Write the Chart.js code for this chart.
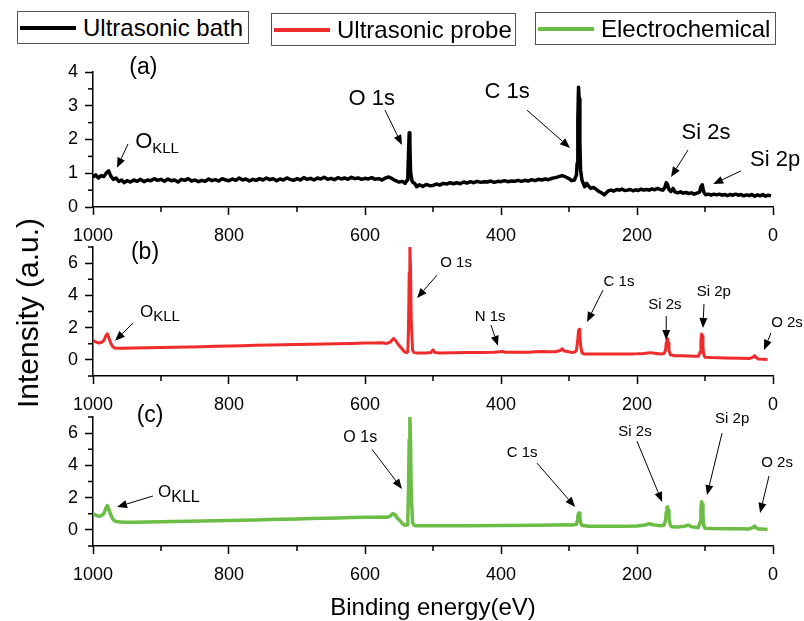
<!DOCTYPE html>
<html>
<head>
<meta charset="utf-8">
<script src="https://cdn.jsdelivr.net/npm/chart.js@4.4.1/dist/chart.umd.min.js"></script>
<style>
  html,body{margin:0;padding:0;background:#fff;}
  #wrap{position:relative;width:804px;height:621px;background:#fff;overflow:hidden;font-family:"Liberation Sans",Arial,sans-serif;color:#000;}
  canvas{position:absolute;left:0;top:0;}
  .lg{position:absolute;height:33px;border:1px solid #555;box-sizing:border-box;display:flex;align-items:center;background:#fff;}
  .lg .ln{display:inline-block;width:56px;height:4px;margin-left:2px;margin-right:7px;}
  .lg .tx{font-size:24px;line-height:33px;white-space:nowrap;}
  .ttl{position:absolute;white-space:nowrap;transform:translate(-50%,-50%);}
</style>
</head>
<body>
<div id="wrap">
  <canvas id="cA" width="804" height="621"></canvas>
  <canvas id="cB" width="804" height="621"></canvas>
  <canvas id="cC" width="804" height="621"></canvas>
  <div class="lg" style="left:17px;top:11px;width:232px;"><span class="ln" style="background:#000"></span><span class="tx">Ultrasonic bath</span></div>
  <div class="lg" style="left:271px;top:13px;width:245px;"><span class="ln" style="background:#ef2b2b"></span><span class="tx">Ultrasonic probe</span></div>
  <div class="lg" style="left:535px;top:12px;width:241px;"><span class="ln" style="background:#6cbd45"></span><span class="tx">Electrochemical</span></div>
  <div class="ttl" style="left:28px;top:313px;font-size:30px;transform:translate(-50%,-50%) rotate(-90deg);">Intensity (a.u.)</div>
  <div class="ttl" style="left:433px;top:607px;font-size:24px;">Binding energy(eV)</div>
</div>
<script>
// ---------- DATA ----------
const seriesNames = ['Ultrasonic bath', 'Ultrasonic probe', 'Electrochemical'];
const xTicks = [1000, 800, 600, 400, 200, 0];
const xMinorTicks = [900, 700, 500, 300, 100];
const yTicksA = [0, 1, 2, 3, 4];
const yMinorA = [0.5, 1.5, 2.5, 3.5];
const yTicksBC = [0, 2, 4, 6];
const yMinorBC = [-1, 1, 3, 5, 7];

// (a) Ultrasonic bath
const energyA = [1000,996,992,988,984,980,977,974,970,966,962,958,954,950,945,940,935,930,925,920,915,910,905,900,895,890,885,880,875,870,865,860,855,850,845,840,835,830,825,820,815,810,805,800,795,790,785,780,775,770,765,760,755,750,745,740,735,730,725,720,715,710,705,700,695,690,685,680,675,670,665,660,655,650,645,640,635,630,625,620,615,610,605,600,595,590,585,580,575,570,565,560,555,550,545,541,538,537,536,535,534,533,531,529,527,524,520,515,510,505,500,495,490,485,480,475,470,465,460,455,450,445,440,435,430,425,420,415,410,405,400,395,390,385,380,375,370,365,360,355,350,345,340,335,330,325,320,315,310,305,300,296,292,289,288,287,286,285,284,283,281,279,277,274,271,268,264,260,256,252,248,245,242,238,234,230,226,222,218,214,210,206,202,198,194,190,186,182,178,174,170,166,162,159,157,155,153,150,147,144,140,136,132,128,124,120,116,112,108,106,104,102,99,95,91,87,83,79,75,71,67,63,59,55,51,47,43,39,35,31,27,23,19,15,11,7,3];
const intensityA = [0.88,0.95,0.86,0.93,0.9,1.02,1.07,0.92,0.82,0.86,0.76,0.8,0.72,0.78,0.74,0.8,0.76,0.82,0.75,0.8,0.78,0.84,0.79,0.82,0.76,0.83,0.78,0.8,0.74,0.82,0.79,0.84,0.77,0.8,0.75,0.79,0.76,0.83,0.78,0.81,0.77,0.84,0.8,0.78,0.83,0.79,0.86,0.8,0.83,0.77,0.82,0.79,0.84,0.8,0.86,0.81,0.84,0.78,0.83,0.8,0.86,0.82,0.79,0.84,0.8,0.87,0.82,0.85,0.8,0.86,0.83,0.88,0.82,0.85,0.81,0.87,0.83,0.86,0.82,0.88,0.84,0.86,0.82,0.85,0.83,0.87,0.82,0.84,0.8,0.86,0.89,0.84,0.78,0.74,0.76,0.7,0.8,0.95,1.6,2.2,1.9,1.05,0.78,0.72,0.7,0.6,0.66,0.61,0.67,0.63,0.64,0.68,0.65,0.7,0.68,0.72,0.69,0.72,0.69,0.74,0.71,0.75,0.72,0.76,0.73,0.75,0.74,0.77,0.73,0.76,0.75,0.78,0.75,0.77,0.76,0.79,0.76,0.79,0.77,0.81,0.78,0.82,0.8,0.83,0.81,0.85,0.87,0.9,0.93,0.89,0.84,0.78,0.8,0.95,1.3,2.6,3.55,3.2,1.9,1.1,0.8,0.7,0.6,0.7,0.62,0.55,0.58,0.52,0.46,0.42,0.36,0.42,0.48,0.5,0.47,0.52,0.5,0.53,0.49,0.5,0.52,0.48,0.51,0.49,0.53,0.5,0.52,0.5,0.54,0.51,0.55,0.52,0.5,0.58,0.72,0.66,0.52,0.46,0.55,0.44,0.42,0.45,0.41,0.43,0.4,0.42,0.38,0.41,0.44,0.6,0.66,0.45,0.36,0.38,0.35,0.38,0.36,0.38,0.35,0.37,0.34,0.37,0.35,0.38,0.35,0.37,0.33,0.36,0.34,0.37,0.32,0.36,0.33,0.37,0.32,0.35,0.33];

// (b) Ultrasonic probe
const energyB = [1000,996,992,988,984,981,979,977,974,971,968,964,955,940,920,900,880,860,840,820,800,780,760,740,720,700,680,660,640,620,600,585,575,568,563,558,555,551,546,542,539,537,536,535,534,533,532,530,528,524,520,510,503,500,497,490,470,450,430,410,402,398,394,380,360,350,340,330,320,313,310,307,300,295,291,289,287,286,285,284,283,281,278,270,250,230,210,200,190,180,172,165,160,158,157,156,155,154,153,151,145,135,125,115,110,107,106,105,104,103,102,100,90,70,50,35,29,27,25,22,15,8];
const intensityB = [1.2,1.12,1.05,1.08,1.2,1.5,1.62,1.4,1.05,0.82,0.74,0.72,0.72,0.74,0.75,0.77,0.78,0.8,0.82,0.84,0.86,0.88,0.9,0.92,0.94,0.95,0.97,0.99,1.0,1.02,1.04,1.05,1.06,1.02,1.1,1.33,1.2,0.95,0.7,0.5,0.45,0.5,2.0,5.4,6.95,5.6,2.4,0.6,0.45,0.42,0.42,0.43,0.45,0.62,0.45,0.43,0.44,0.45,0.46,0.47,0.5,0.52,0.47,0.47,0.48,0.5,0.52,0.5,0.5,0.58,0.68,0.55,0.5,0.45,0.5,0.6,1.3,1.8,1.9,1.6,0.9,0.45,0.37,0.36,0.36,0.37,0.37,0.38,0.4,0.45,0.4,0.36,0.4,0.6,1.05,1.28,1.3,1.05,0.6,0.32,0.26,0.25,0.24,0.22,0.22,0.5,1.2,1.6,1.5,0.8,0.35,0.16,0.14,0.12,0.1,0.08,0.17,0.26,0.16,0.06,0.04,0.02];

// (c) Electrochemical
const energyC = [1000,996,992,988,984,981,979,977,974,971,968,964,955,940,920,900,880,860,840,820,800,780,760,740,720,700,680,660,640,620,600,585,575,568,563,559,556,552,548,544,541,538,537,536,535,534,533,532,530,528,525,500,450,400,350,320,305,295,289,288,287,286,285,284,283,281,270,250,220,200,190,182,175,165,160,158,157,156,155,154,153,151,149,140,130,125,120,110,107,106,105,104,103,102,100,90,70,50,35,29,27,25,22,15,8];
const intensityC = [1.0,0.92,0.85,0.88,1.0,1.35,1.5,1.3,0.95,0.68,0.55,0.5,0.48,0.48,0.49,0.5,0.52,0.53,0.55,0.56,0.58,0.6,0.62,0.64,0.66,0.68,0.7,0.72,0.74,0.76,0.78,0.79,0.8,0.78,0.85,1.02,0.95,0.7,0.55,0.35,0.28,0.32,0.7,2.6,5.6,7.0,5.4,2.2,0.45,0.3,0.25,0.25,0.26,0.27,0.28,0.3,0.32,0.3,0.35,0.55,0.85,1.02,1.05,0.85,0.45,0.27,0.22,0.22,0.23,0.24,0.28,0.38,0.3,0.26,0.3,0.6,1.1,1.38,1.42,1.2,0.7,0.3,0.2,0.18,0.22,0.3,0.2,0.14,0.5,1.3,1.75,1.6,0.9,0.3,0.1,0.08,0.07,0.07,0.06,0.15,0.24,0.14,0.06,0.05,0.03];

// ---------- ANNOTATIONS (text in data units of each panel) ----------
const labelsA = [
  {t:'(a)', x:926, y:4.12, s:23},
  {t:'O 1s', x:590, y:3.2, s:22},
  {t:'C 1s', x:391, y:3.41, s:22},
  {t:'Si 2s', x:98.5, y:2.19, s:22},
  {t:'Si 2p', x:-3, y:1.39, s:22},
  {t:'O', sub:'KLL', x:938, y:1.94, s:22, ss:15, off:7}
];
const arrowsA = [[[948.5,1.87],[964.7,1.16]],[[570.6,2.87],[545.6,1.84]],[[361.8,2.87],[298.5,1.75]],[[125,1.69],[150,0.89]],[[47,1.07],[88,0.68]]];
const labelsB = [
  {t:'(b)', x:923.5, y:6.62, s:23},
  {t:'O', sub:'KLL', x:931, y:2.94, s:17, ss:15, off:4},
  {t:'O 1s', x:466, y:6.0, s:15},
  {t:'N 1s', x:416, y:2.66, s:15},
  {t:'C 1s', x:226.5, y:4.82, s:15},
  {t:'Si 2s', x:159, y:3.4, s:15},
  {t:'Si 2p', x:87, y:4.2, s:15},
  {t:'O 2s', x:-20.6, y:2.29, s:15}
];
const arrowsB = [[[941,2.29],[967.6,1.18]],[[494,5.26],[523.5,3.83]],[[414.7,2.16],[404.4,0.87]],[[250,4.33],[273.5,2.35]],[[157,2.72],[157,1.24]],[[101.5,3.46],[103,1.98]],[[3,1.67],[13.2,0.62]]];
const labelsC = [
  {t:'(c)', x:916, y:7.11, s:23},
  {t:'O', sub:'KLL', x:904.4, y:2.35, s:17, ss:16, off:6},
  {t:'O 1s', x:607, y:5.75, s:16},
  {t:'C 1s', x:369, y:4.76, s:15},
  {t:'Si 2s', x:203, y:6.06, s:15},
  {t:'Si 2p', x:60, y:6.86, s:15},
  {t:'O 2s', x:-6, y:4.14, s:15}
];
const arrowsC = [[[911.8,2.1],[964.7,1.42]],[[589.7,5.0],[545.6,2.54]],[[347,4.14],[291,1.42]],[[200,5.5],[163,1.73]],[[75,6.0],[97,2.16]],[[5.9,3.34],[19,1.05]]];

// ---------- CHARTS ----------
const FONT = '"Liberation Sans", Arial, sans-serif';
Chart.defaults.font.family = FONT;
Chart.defaults.color = '#000';

function toPts(xs, ys){ return xs.map((x,i)=>({x:x, y:ys[i]})); }

function drawArrow(ctx, x1, y1, x2, y2){
  const ang = Math.atan2(y2-y1, x2-x1);
  const hl = 10, hw = 4;
  const bx = x2 - hl*Math.cos(ang), by = y2 - hl*Math.sin(ang);
  ctx.beginPath(); ctx.moveTo(x1,y1); ctx.lineTo(bx,by); ctx.stroke();
  ctx.beginPath(); ctx.moveTo(x2,y2);
  ctx.lineTo(bx + hw*Math.sin(ang), by - hw*Math.cos(ang));
  ctx.lineTo(bx - hw*Math.sin(ang), by + hw*Math.cos(ang));
  ctx.closePath(); ctx.fill();
}

const decor = {
  id: 'decor',
  afterDraw(chart, args, opts){
    const ctx = chart.ctx, xs = chart.scales.x, ys = chart.scales.y;
    const ca = chart.chartArea;
    ctx.save();
    ctx.strokeStyle = '#000'; ctx.fillStyle = '#000'; ctx.lineWidth = 1.5;
    opts.xMinor.forEach(v=>{ const px = xs.getPixelForValue(v); ctx.beginPath(); ctx.moveTo(px, ca.bottom); ctx.lineTo(px, ca.bottom+5); ctx.stroke(); });
    opts.yMinor.forEach(v=>{ const py = ys.getPixelForValue(v); ctx.beginPath(); ctx.moveTo(ca.left, py); ctx.lineTo(ca.left-5, py); ctx.stroke(); });
    ctx.lineWidth = 1;
    opts.arrows.forEach(a=>{
      drawArrow(ctx, xs.getPixelForValue(a[0][0]), ys.getPixelForValue(a[0][1]), xs.getPixelForValue(a[1][0]), ys.getPixelForValue(a[1][1]));
    });
    ctx.textBaseline = 'middle';
    opts.labels.forEach(l=>{
      const px = xs.getPixelForValue(l.x), py = ys.getPixelForValue(l.y);
      ctx.font = l.s + 'px ' + FONT;
      if (l.sub){
        ctx.textAlign = 'left';
        ctx.fillText(l.t, px, py);
        const w = ctx.measureText(l.t).width;
        ctx.font = l.ss + 'px ' + FONT;
        ctx.fillText(l.sub, px + w, py + l.off);
      } else {
        ctx.textAlign = 'center';
        ctx.fillText(l.t, px, py);
      }
    });
    ctx.restore();
  }
};

function makeChart(id, name, xs, ys, color, lw, yMin, yMax, yTicks, yMinor, top, bottomPad, labels, arrows){
  return new Chart(document.getElementById(id), {
    type: 'line',
    data: { datasets: [{ label: name, data: toPts(xs, ys), borderColor: color, borderWidth: lw, pointRadius: 0, tension: 0, fill: false, borderJoinStyle: 'round' }] },
    options: {
      responsive: false, animation: false,
      layout: { padding: { left: 33, right: 31, top: top, bottom: bottomPad } },
      plugins: { legend: { display: false }, tooltip: { enabled: false },
        decor: { xMinor: xMinorTicks, yMinor: yMinor, labels: labels, arrows: arrows } },
      scales: {
        x: {
          type: 'linear', reverse: true, min: 0, max: 1000,
          afterBuildTicks: s => { s.ticks = xTicks.map(v=>({value:v})); },
          afterFit: s => { s.height = 40; },
          ticks: { font: { size: 18, family: FONT }, color: '#000', padding: 10, maxRotation: 0, autoSkip: false, callback: v => String(v) },
          grid: { display: true, drawOnChartArea: false, drawTicks: true, tickLength: 8, tickColor: '#000', tickWidth: 1.5 },
          border: { display: true, color: '#000', width: 1.5 }
        },
        y: {
          type: 'linear', min: yMin, max: yMax,
          afterBuildTicks: s => { s.ticks = yTicks.map(v=>({value:v})); },
          afterFit: s => { s.width = 60; },
          ticks: { font: { size: 18, family: FONT }, color: '#000', padding: 7, autoSkip: false, callback: v => String(v) },
          grid: { display: true, drawOnChartArea: false, drawTicks: true, tickLength: 8, tickColor: '#000', tickWidth: 1.5 },
          border: { display: true, color: '#000', width: 1.5 }
        }
      }
    },
    plugins: [decor]
  });
}

makeChart('cA', seriesNames[0], energyA, intensityA, '#000000', 3.5, 0, 4, yTicksA, yMinorA, 72, 374, labelsA, arrowsA);
makeChart('cB', seriesNames[1], energyB, intensityB, '#ef2b2b', 3, -1, 7, yTicksBC, yMinorBC, 247, 205, labelsB, arrowsB);
makeChart('cC', seriesNames[2], energyC, intensityC, '#6cbd45', 3.5, -1, 7, yTicksBC, yMinorBC, 417, 35, labelsC, arrowsC);
</script>
</body>
</html>
